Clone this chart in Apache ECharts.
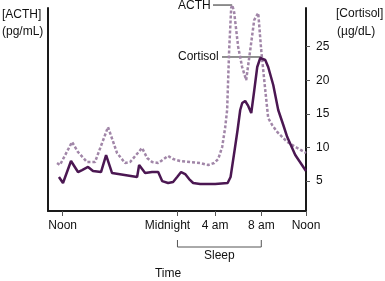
<!DOCTYPE html>
<html>
<head>
<meta charset="utf-8">
<script src="https://cdn.jsdelivr.net/npm/echarts@6/dist/echarts.min.js"></script>
<style>
html,body{margin:0;padding:0;background:#fff;}
#c{width:385px;height:281px;}
</style>
</head>
<body>
<div id="c"></div>
<script>
var tickHours = [0, 11.32, 15.04, 19.59, 24];
var tickLabels = ['Noon', 'Midnight', '4 am', '8 am', 'Noon'];
var cortisolTicks = [5, 10, 15, 20, 25];

var cortisolHours = [-0.37, 0.03, 0.82, 1.51, 1.91, 2.50, 2.99, 3.78, 4.28, 4.87, 7.34, 7.54, 8.13, 8.82, 9.42, 9.81, 10.40, 10.89, 11.29, 11.68, 12.08, 12.47, 12.87, 13.56, 15.04, 16.27, 16.56, 16.96, 17.25, 17.51, 17.71, 18.00, 18.30, 18.60, 18.90, 19.19, 19.49, 19.68, 19.98, 20.27, 20.77, 21.26, 21.76, 22.15, 22.94, 24.0];
var cortisolValues = [5.61, 4.72, 7.99, 6.35, 6.65, 7.1, 6.5, 6.35, 8.88, 6.2, 5.61, 7.4, 6.2, 6.35, 6.35, 5.0, 4.72, 4.87, 5.6, 6.35, 6.05, 5.3, 4.72, 4.57, 4.57, 4.72, 5.61, 9.63, 12.6, 15.58, 16.62, 16.92, 16.18, 15.13, 18.56, 21.98, 23.32, 23.47, 23.02, 21.98, 19.30, 15.58, 13.35, 11.56, 8.88, 6.5];

var acthHours = [-0.56, -0.27, 0.92, 1.51, 2.40, 3.19, 4.47, 5.36, 6.15, 6.65, 7.83, 8.33, 8.82, 9.42, 10.40, 10.89, 11.58, 12.57, 13.56, 14.35, 14.94, 15.34, 15.73, 16.02, 16.22, 16.42, 16.62, 16.72, 16.91, 17.31, 17.70, 18.10, 18.50, 18.89, 19.29, 19.58, 19.98, 20.27, 20.66, 21.16, 22.15, 23.14, 24.0];
var acthValues = [7.69, 7.4, 10.82, 9.33, 7.84, 7.84, 13.05, 9.18, 7.69, 7.84, 9.93, 8.44, 7.84, 7.69, 8.74, 8.29, 7.99, 7.84, 7.69, 7.4, 7.69, 8.29, 10.07, 12.9, 15.58, 24.51, 30.76, 31.2, 30.16, 24.96, 21.98, 20.04, 24.51, 28.97, 30.01, 24.51, 18.56, 14.39, 13.35, 12.31, 10.82, 9.93, 9.18];

function pairs(xs, ys) { return xs.map(function (x, i) { return [x, ys[i]]; }); }

var chart = echarts.init(document.getElementById('c'), null, { renderer: 'canvas' });
var FONT = 'Liberation Sans, Arial, sans-serif';
var AXIS_COLOR = '#1a1a1a';
var yMin = 0.55, yMax = 30.76;

chart.setOption({
  animation: false,
  grid: { left: 48, right: 79, top: 8, bottom: 70, containLabel: false, outerBoundsMode: 'none' },
  xAxis: {
    type: 'value', min: -1.45, max: 24,
    axisLine: { show: true, onZero: false, lineStyle: { color: AXIS_COLOR, width: 2 } },
    axisTick: { show: true, customValues: tickHours, length: 5, lineStyle: { color: '#555', width: 1 } },
    axisLabel: {
      customValues: tickHours, margin: 9, color: '#111', fontSize: 12, fontFamily: FONT,
      formatter: function (v) {
        for (var i = 0; i < tickHours.length; i++) {
          if (Math.abs(tickHours[i] - v) < 1e-6) return i === 1 ? '{m|' + tickLabels[i] + '}' : tickLabels[i];
        }
        return '';
      },
      rich: { m: { fontSize: 12, fontFamily: FONT, color: '#111', padding: [0, 20, 0, 0] } }
    },
    splitLine: { show: false }
  },
  yAxis: [
    {
      type: 'value', position: 'left', min: yMin, max: yMax,
      axisLine: { show: true, onZero: false, lineStyle: { color: AXIS_COLOR, width: 2 } },
      axisTick: { show: false }, axisLabel: { show: false }, splitLine: { show: false }
    },
    {
      type: 'value', position: 'right', min: yMin, max: yMax,
      axisLine: { show: true, onZero: false, lineStyle: { color: AXIS_COLOR, width: 2 } },
      axisTick: { show: true, customValues: cortisolTicks, length: 4, lineStyle: { color: '#555', width: 1 } },
      axisLabel: { customValues: cortisolTicks, margin: 10, color: '#111', fontSize: 12, fontFamily: FONT },
      splitLine: { show: false }
    }
  ],
  series: [
    {
      name: 'ACTH', type: 'line', yAxisIndex: 0, data: pairs(acthHours, acthValues),
      symbol: 'none', smooth: false, clip: false,
      lineStyle: { color: '#a186a8', width: 2.5, type: [3, 2] }
    },
    {
      name: 'Cortisol', type: 'line', yAxisIndex: 1, data: pairs(cortisolHours, cortisolValues),
      symbol: 'none', smooth: false, clip: false,
      lineStyle: { color: '#4b1752', width: 2.5 }
    }
  ]
});

// Annotations positioned via the chart's own scales
function px(h, v) { return chart.convertToPixel({ xAxisIndex: 0, yAxisIndex: 1 }, [h, v]); }
var acthPeakIdx = acthValues.indexOf(Math.max.apply(null, acthValues));
var cortPeakIdx = cortisolValues.indexOf(Math.max.apply(null, cortisolValues));
var acthPeak = px(acthHours[acthPeakIdx], acthValues[acthPeakIdx]);
var cortPeak = px(cortisolHours[cortPeakIdx], cortisolValues[cortPeakIdx]);
var midX = px(tickHours[1], yMin)[0];
var eightX = px(tickHours[3], yMin)[0];
var textStyle = function (t, x, y, align) {
  return { type: 'text', x: x, y: y, style: { text: t, fill: '#111', font: '12px ' + FONT, textAlign: align || 'left', textVerticalAlign: 'middle' } };
};
var lineEl = function (x1, y1, x2, y2) {
  return { type: 'line', shape: { x1: x1, y1: y1, x2: x2, y2: y2 }, style: { stroke: '#222', lineWidth: 1 } };
};
chart.setOption({
  graphic: [
    textStyle('[ACTH]', 2, 15),
    textStyle('(pg/mL)', 2, 32),
    textStyle('[Cortisol]', 336, 14),
    textStyle('(\u00b5g/dL)', 337, 32),
    textStyle('ACTH', 178, 6),
    lineEl(213, acthPeak[1], acthPeak[0], acthPeak[1]),
    textStyle('Cortisol', 178, 57),
    lineEl(222, cortPeak[1], cortPeak[0], cortPeak[1]),
    { type: 'polyline', shape: { points: [[midX, 240], [midX, 247], [eightX, 247], [eightX, 240]] }, style: { stroke: '#555', lineWidth: 1, fill: null } },
    textStyle('Sleep', (midX + eightX) / 2, 256, 'center'),
    textStyle('Time', 168, 274, 'center')
  ]
});
</script>
</body>
</html>
